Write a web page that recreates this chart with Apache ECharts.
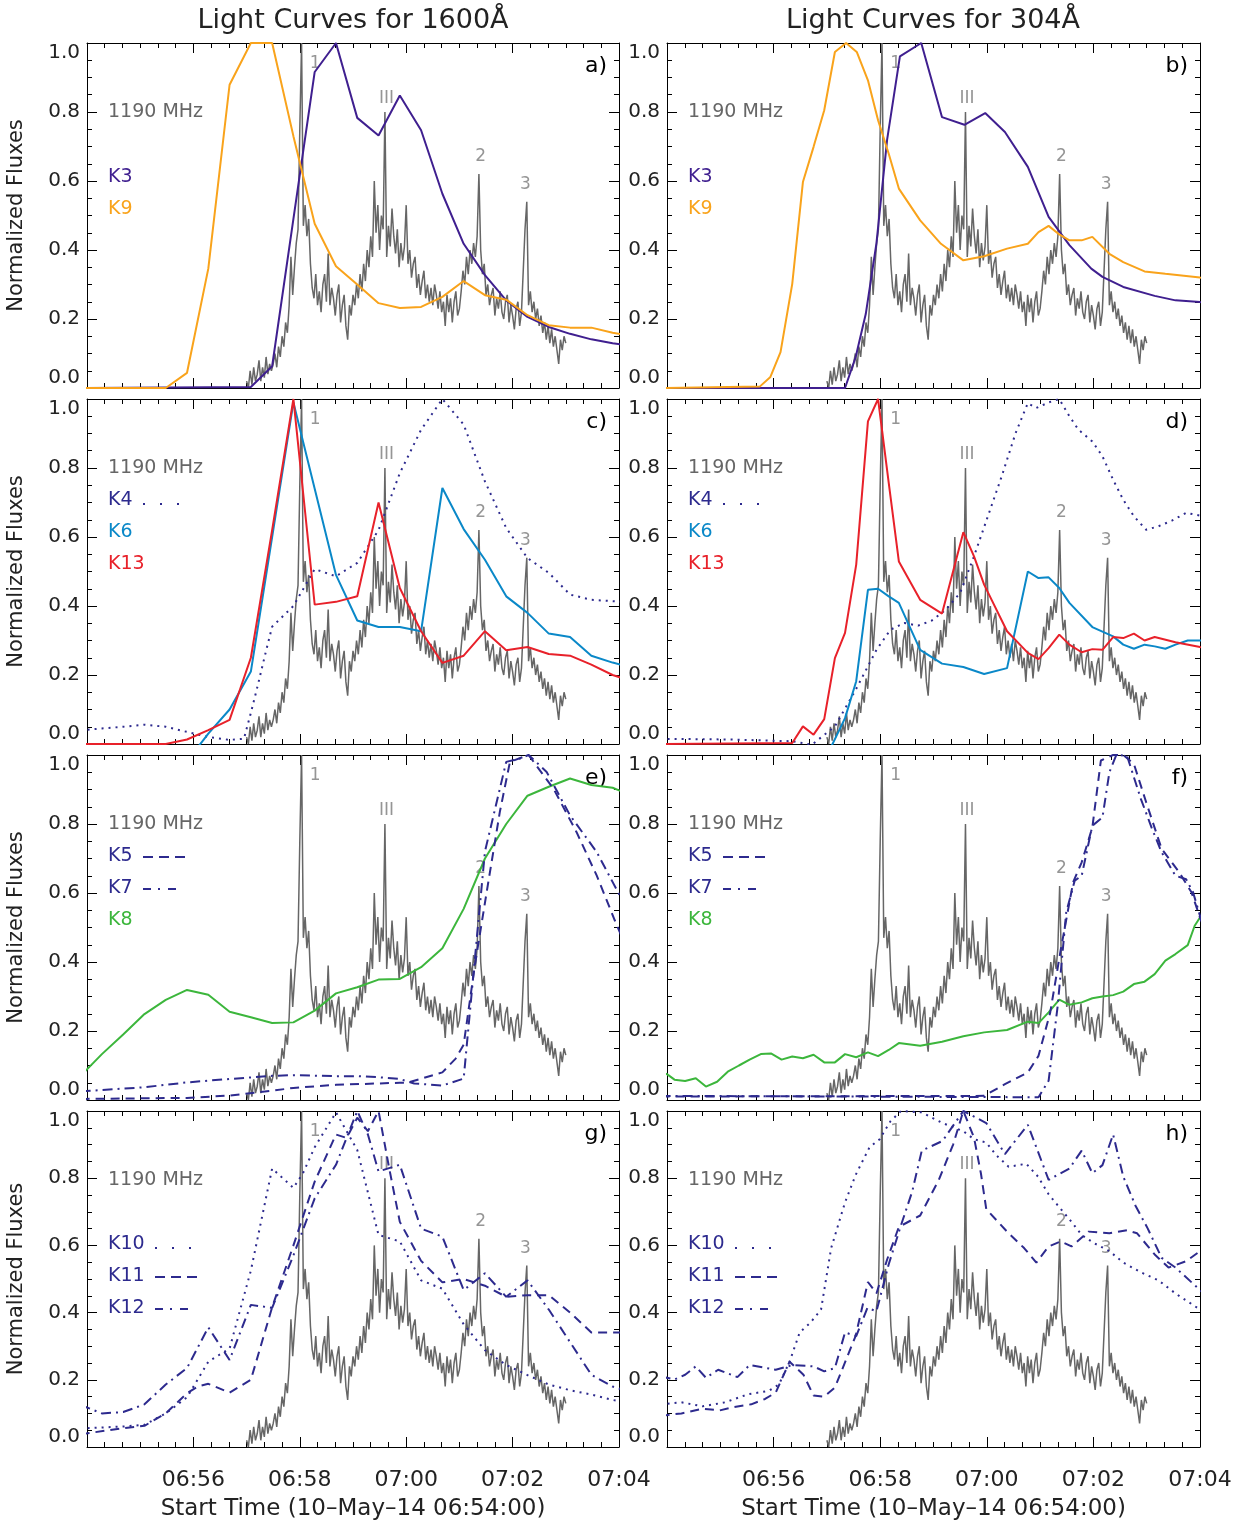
<!DOCTYPE html>
<html>
<head>
<meta charset="utf-8">
<title>Light Curves</title>
<script src="https://cdn.jsdelivr.net/npm/echarts@6/dist/echarts.min.js"></script>
<style>
  html, body { margin: 0; padding: 0; background: #fff; }
  #chart { width: 1246px; height: 1522px; }
</style>
</head>
<body>
<div id="chart"></div>
<script>
// time axis: minutes after 06:54:00
const radioStart = 3.0;      // 06:57:00
const radioStep = 2 / 60;    // 2 s cadence
// 1190 MHz radio flux (normalized)
const radioFlux = [
  0.02,0.00,0.05,0.01,0.06,0.02,0.04,0.08,0.02,0.06,0.03,0.09,0.04,0.07,0.05,
  0.07,0.10,0.06,0.12,0.09,0.15,0.12,0.19,0.16,0.24,0.38,0.27,0.35,0.42,0.46,0.75,
  1.00,0.47,0.53,0.44,0.49,0.36,0.29,0.26,0.33,0.24,
  0.28,0.22,0.30,0.33,0.25,0.39,0.24,0.29,0.26,0.21,0.27,0.30,0.19,0.24,0.27,0.18,0.14,0.24,0.21,0.27,
  0.24,0.30,0.26,0.33,0.28,0.36,0.31,0.40,0.35,0.44,0.38,0.60,
  0.45,0.53,0.40,0.50,0.46,0.80,0.38,0.47,0.41,0.52,0.44,0.39,0.46,0.35,0.42,0.37,0.41,0.53,0.36,
  0.40,0.32,0.36,0.38,0.29,0.33,0.27,0.31,0.34,0.26,0.30,0.25,0.29,0.24,0.30,0.27,0.23,0.28,0.22,0.25,
  0.18,0.27,0.22,0.26,0.19,0.25,0.28,0.21,0.23,
  0.28,0.34,0.30,0.38,0.33,0.40,0.36,0.42,0.38,0.44,0.62,0.40,0.33,0.36,0.27,
  0.30,0.24,0.27,0.29,0.21,0.26,0.23,0.28,0.22,0.20,0.25,0.27,0.19,0.24,0.21,0.17,0.23,0.25,0.18,0.22,
  0.22,0.46,0.54,0.24,0.28,
  0.22,0.25,0.20,0.23,0.18,0.21,0.16,0.19,0.14,0.18,0.13,0.17,0.12,0.15,0.15,0.07,0.14,0.11,0.15,0.13
];
// radio peak annotations [t, flux]
const peakNames = ['1', 'III', '2', '3'];
const peakPos = [[4.29, 0.94], [5.63, 0.84], [7.40, 0.67], [8.24, 0.59]];

// 1600 A kernels [t, flux]
const k3_1600 = [[-0.12,0],[3.08,0.003],[3.48,0.063],[3.88,0.49],[4.28,0.916],[4.68,1.0],[5.08,0.783],[5.48,0.732],[5.88,0.848],[6.28,0.747],[6.68,0.563],[7.08,0.418],[7.48,0.327],[7.88,0.254],[8.28,0.206],[8.68,0.177],[9.08,0.157],[9.48,0.141],[9.88,0.13],[10.28,0.12]];
const k9_1600 = [[-0.12,0],[1.48,0],[1.88,0.044],[2.28,0.346],[2.68,0.879],[3.08,1.0],[3.48,1.0],[3.88,0.73],[4.28,0.476],[4.68,0.353],[5.08,0.30],[5.48,0.246],[5.88,0.232],[6.28,0.235],[6.68,0.264],[7.08,0.31],[7.48,0.269],[7.88,0.256],[8.28,0.211],[8.68,0.182],[9.08,0.175],[9.48,0.175],[9.88,0.16],[10.28,0.15]];
const k4_1600 = [[-0.12,0.04],[0.28,0.045],[0.68,0.05],[1.08,0.056],[1.48,0.05],[1.88,0.035],[2.28,0.02],[2.68,0.012],[2.95,0.015],[3.08,0.09],[3.21,0.17],[3.35,0.26],[3.48,0.34],[3.88,0.40],[4.28,0.507],[4.68,0.486],[5.08,0.525],[5.48,0.62],[5.88,0.785],[6.28,0.911],[6.68,1.0],[7.08,0.926],[7.48,0.761],[7.88,0.626],[8.28,0.539],[8.68,0.496],[9.08,0.433],[9.48,0.418],[9.88,0.414],[10.28,0.41]];
const k6_1600 = [[1.88,-0.05],[2.28,0.03],[2.68,0.10],[3.08,0.21],[3.48,0.60],[3.88,0.99],[4.28,0.74],[4.68,0.49],[5.08,0.358],[5.48,0.339],[5.88,0.339],[6.28,0.327],[6.68,0.742],[7.08,0.623],[7.48,0.534],[7.88,0.428],[8.28,0.38],[8.68,0.32],[9.08,0.31],[9.48,0.256],[9.88,0.236],[10.28,0.22]];
const k13_1600 = [[-0.12,0],[1.48,0],[1.88,0.013],[2.28,0.04],[2.68,0.07],[3.08,0.25],[3.48,0.62],[3.88,1.0],[4.28,0.404],[4.68,0.412],[5.08,0.428],[5.48,0.70],[5.88,0.452],[6.28,0.327],[6.68,0.235],[7.08,0.256],[7.48,0.327],[7.88,0.272],[8.28,0.281],[8.68,0.261],[9.08,0.256],[9.48,0.23],[9.88,0.20],[10.28,0.18]];
const k5_1600 = [[-0.12,0.003],[1.08,0.005],[1.88,0.006],[2.68,0.013],[3.48,0.027],[3.88,0.035],[4.68,0.044],[5.48,0.048],[5.88,0.05],[6.02,0.05],[6.68,0.08],[6.93,0.12],[7.08,0.16],[7.29,0.39],[7.51,0.60],[7.76,0.835],[7.95,0.98],[8.30,1.0],[8.77,0.902],[9.20,0.777],[9.58,0.651],[9.92,0.521],[10.28,0.39]];
const k7_1600 = [[-0.12,0.025],[1.08,0.037],[1.88,0.051],[2.68,0.061],[3.48,0.07],[3.88,0.072],[4.68,0.069],[5.08,0.069],[5.48,0.066],[5.88,0.061],[6.15,0.048],[6.68,0.042],[7.08,0.062],[7.48,0.72],[7.88,0.98],[8.14,0.99],[8.30,1.0],[8.64,0.951],[9.08,0.825],[9.58,0.719],[10.0,0.597],[10.28,0.53]];
const k8_1600 = [[-0.12,0.07],[0.28,0.133],[0.68,0.19],[1.08,0.249],[1.48,0.29],[1.88,0.319],[2.28,0.305],[2.68,0.256],[3.08,0.24],[3.48,0.223],[3.88,0.225],[4.28,0.259],[4.68,0.309],[5.08,0.327],[5.48,0.349],[5.88,0.351],[6.28,0.385],[6.68,0.44],[7.08,0.554],[7.48,0.70],[7.88,0.80],[8.28,0.882],[8.68,0.908],[9.08,0.932],[9.48,0.913],[9.88,0.905],[10.28,0.88]];
const k10_1600 = [[-0.12,0.055],[0.28,0.058],[0.68,0.061],[1.08,0.066],[1.48,0.10],[1.88,0.148],[2.28,0.254],[2.68,0.293],[3.08,0.525],[3.48,0.829],[3.88,0.771],[4.06,0.815],[4.28,0.892],[4.68,0.996],[5.08,0.884],[5.48,0.631],[5.88,0.612],[6.28,0.496],[6.68,0.471],[7.08,0.365],[7.48,0.288],[7.88,0.244],[8.28,0.214],[8.68,0.186],[9.08,0.169],[9.48,0.156],[9.88,0.14],[10.28,0.13]];
const k11_1600 = [[-0.12,0.038],[0.68,0.056],[1.08,0.063],[1.48,0.10],[1.88,0.16],[2.08,0.18],[2.28,0.188],[2.68,0.162],[3.08,0.20],[3.48,0.416],[3.88,0.60],[4.28,0.79],[4.68,0.93],[4.88,0.92],[5.08,0.98],[5.28,0.94],[5.48,1.0],[5.68,0.83],[5.88,0.67],[6.28,0.554],[6.68,0.49],[7.08,0.50],[7.48,0.48],[7.88,0.447],[8.28,0.452],[8.68,0.452],[9.08,0.40],[9.48,0.341],[9.88,0.341],[10.28,0.34]];
const k12_1600 = [[-0.12,0.125],[0.28,0.10],[0.68,0.104],[1.08,0.127],[1.48,0.186],[1.88,0.235],[2.28,0.356],[2.68,0.259],[3.08,0.423],[3.48,0.414],[3.88,0.57],[4.28,0.74],[4.68,0.84],[4.88,0.92],[5.08,1.0],[5.28,0.93],[5.48,0.82],[5.88,0.84],[6.28,0.65],[6.68,0.626],[7.08,0.467],[7.48,0.517],[7.88,0.447],[8.28,0.496],[8.68,0.409],[9.08,0.312],[9.48,0.215],[9.88,0.18],[10.28,0.16]];

// 304 A kernels [t, flux]
const k3_304 = [[-0.12,0],[3.34,0],[3.54,0.09],[3.73,0.215],[3.93,0.42],[4.13,0.72],[4.37,0.961],[4.77,1.0],[5.16,0.785],[5.58,0.763],[5.97,0.797],[6.34,0.742],[6.77,0.641],[7.16,0.496],[7.55,0.414],[7.96,0.346],[8.17,0.322],[8.56,0.293],[9.15,0.267],[9.54,0.254],[10.0,0.249],[10.2,0.248]];
const k9_304 = [[-0.12,0],[1.74,0.004],[1.94,0.032],[2.13,0.104],[2.35,0.302],[2.55,0.597],[2.75,0.699],[2.95,0.805],[3.15,0.974],[3.36,1.0],[3.56,0.974],[3.77,0.892],[3.96,0.776],[4.16,0.679],[4.35,0.578],[4.75,0.486],[5.14,0.418],[5.56,0.37],[5.95,0.382],[6.38,0.404],[6.77,0.418],[6.97,0.452],[7.16,0.47],[7.36,0.445],[7.55,0.428],[7.78,0.428],[7.98,0.438],[8.30,0.389],[8.56,0.365],[8.96,0.338],[9.35,0.331],[10.0,0.32],[10.2,0.318]];
const k4_304 = [[-0.12,0.015],[1.2,0.013],[2.35,0.008],[2.72,-0.002],[3.15,0.051],[3.54,0.157],[3.93,0.273],[4.19,0.331],[4.45,0.351],[4.71,0.343],[4.97,0.358],[5.23,0.389],[5.50,0.438],[5.76,0.544],[6.02,0.66],[6.28,0.776],[6.54,0.901],[6.77,0.988],[6.93,0.974],[7.16,0.99],[7.36,1.0],[7.55,0.95],[7.72,0.911],[7.98,0.877],[8.17,0.834],[8.37,0.766],[8.56,0.708],[8.76,0.66],[8.99,0.621],[9.22,0.631],[9.48,0.648],[9.74,0.67],[10.0,0.662],[10.2,0.655]];
const k6_304 = [[2.95,-0.05],[3.34,0.075],[3.55,0.182],[3.77,0.447],[3.96,0.45],[4.16,0.428],[4.35,0.409],[4.75,0.273],[5.16,0.233],[5.56,0.223],[5.95,0.203],[6.38,0.22],[6.77,0.50],[6.97,0.481],[7.16,0.483],[7.36,0.452],[7.55,0.409],[7.98,0.339],[8.37,0.312],[8.56,0.288],[8.76,0.276],[8.96,0.288],[9.15,0.283],[9.35,0.276],[9.54,0.288],[9.77,0.30],[10.0,0.30],[10.2,0.30]];
const k13_304 = [[-0.12,0],[2.35,0.003],[2.55,0.051],[2.75,0.027],[2.95,0.072],[3.15,0.249],[3.34,0.322],[3.55,0.52],[3.77,0.935],[3.96,1.0],[4.16,0.757],[4.35,0.529],[4.75,0.418],[5.16,0.378],[5.56,0.614],[5.76,0.544],[5.95,0.462],[6.38,0.327],[6.77,0.264],[6.97,0.246],[7.16,0.278],[7.36,0.317],[7.55,0.288],[7.78,0.266],[7.98,0.275],[8.17,0.273],[8.37,0.31],[8.56,0.307],[8.76,0.32],[8.96,0.30],[9.15,0.31],[9.54,0.295],[10.0,0.281],[10.2,0.275]];
const k5_304 = [[-0.12,0.01],[5.95,0.012],[6.34,0.046],[6.77,0.08],[6.97,0.128],[7.19,0.254],[7.39,0.438],[7.62,0.631],[7.78,0.689],[7.98,0.79],[8.14,0.984],[8.37,1.0],[8.56,1.0],[8.76,0.974],[8.99,0.863],[9.28,0.728],[9.61,0.66],[9.84,0.602],[10.0,0.529],[10.2,0.45]];
const k7_304 = [[-0.12,0.012],[6.97,0.008],[7.16,0.056],[7.33,0.273],[7.49,0.544],[7.65,0.636],[7.78,0.65],[7.98,0.795],[8.17,0.819],[8.30,0.95],[8.43,1.0],[8.63,0.998],[8.89,0.873],[9.09,0.79],[9.28,0.718],[9.54,0.65],[9.74,0.64],[9.87,0.602],[10.0,0.534],[10.2,0.45]];
const k8_304 = [[-0.12,0.08],[0.0,0.075],[0.14,0.059],[0.34,0.055],[0.54,0.063],[0.73,0.039],[0.94,0.053],[1.14,0.082],[1.35,0.10],[1.55,0.117],[1.76,0.133],[1.95,0.135],[2.15,0.117],[2.35,0.126],[2.55,0.121],[2.75,0.131],[2.95,0.109],[3.15,0.109],[3.34,0.133],[3.55,0.124],[3.77,0.138],[3.96,0.127],[4.16,0.145],[4.35,0.165],[4.75,0.157],[5.16,0.169],[5.56,0.185],[5.95,0.196],[6.38,0.203],[6.77,0.227],[6.97,0.223],[7.16,0.254],[7.36,0.291],[7.55,0.276],[7.78,0.283],[7.98,0.295],[8.17,0.30],[8.37,0.304],[8.56,0.314],[8.76,0.336],[8.96,0.343],[9.15,0.365],[9.35,0.404],[9.54,0.423],[9.77,0.449],[9.90,0.505],[10.0,0.529],[10.2,0.56]];
const k10_304 = [[-0.12,0.127],[0.27,0.133],[0.67,0.121],[1.09,0.133],[1.52,0.157],[1.91,0.167],[2.10,0.186],[2.30,0.254],[2.49,0.341],[2.69,0.37],[2.89,0.409],[3.08,0.592],[3.34,0.728],[3.54,0.81],[3.80,0.892],[3.99,0.916],[4.19,0.969],[4.39,1.0],[4.78,0.996],[5.17,0.964],[5.56,0.94],[5.76,0.916],[5.99,0.906],[6.18,0.868],[6.41,0.834],[6.74,0.843],[6.96,0.805],[7.16,0.752],[7.39,0.708],[7.59,0.67],[7.78,0.631],[8.01,0.607],[8.30,0.583],[8.56,0.549],[8.89,0.52],[9.22,0.496],[9.54,0.457],[10.0,0.409],[10.2,0.39]];
const k11_304 = [[-0.12,0.093],[0.27,0.10],[0.67,0.114],[0.99,0.109],[1.25,0.119],[1.58,0.127],[1.84,0.143],[2.04,0.162],[2.30,0.254],[2.56,0.215],[2.75,0.153],[2.95,0.15],[3.15,0.177],[3.54,0.331],[3.77,0.491],[3.93,0.457],[4.13,0.558],[4.35,0.655],[4.75,0.689],[5.10,0.795],[5.37,0.901],[5.56,1.0],[5.76,0.921],[5.89,0.814],[5.99,0.708],[6.38,0.641],[6.70,0.592],[6.93,0.549],[7.16,0.597],[7.39,0.612],[7.59,0.597],[7.91,0.641],[8.30,0.636],[8.63,0.645],[8.82,0.636],[9.15,0.573],[9.41,0.534],[9.74,0.553],[10.0,0.583],[10.2,0.60]];
const k12_304 = [[-0.12,0.21],[0.14,0.201],[0.34,0.215],[0.54,0.24],[0.73,0.206],[0.96,0.23],[1.32,0.208],[1.55,0.244],[2.04,0.23],[2.36,0.244],[2.75,0.24],[2.95,0.225],[3.15,0.235],[3.34,0.341],[3.55,0.33],[3.76,0.414],[3.93,0.404],[4.16,0.544],[4.39,0.66],[4.60,0.76],[4.78,0.882],[5.17,0.911],[5.56,1.0],[5.99,0.964],[6.34,0.872],[6.77,0.959],[7.16,0.795],[7.55,0.829],[7.78,0.882],[7.98,0.815],[8.17,0.839],[8.37,0.93],[8.56,0.805],[8.79,0.718],[9.02,0.65],[9.28,0.563],[9.54,0.534],[10.0,0.467],[10.2,0.44]];

const GRAY = '#666666', PURPLE = '#3f1f8f', ORANGE = '#f9a31b', BLUE = '#0a88c8',
      RED = '#e8212a', GREEN = '#3cb63c', NAVY = '#2d2a8e';
const DASH = { solid: 'solid', dot: [2, 5], dash: [9, 6], dashdot: [10, 5, 2, 5] };
const LEG_DASH = { dot: [2, 15], dash: [10, 6], dashdot: [8, 7, 2, 8] };
const FONT = 'DejaVu Sans';

// panel layout: letter, column, row, curves, legend rows [dy, text, color, style]
const panels = [
  { letter: 'a)', col: 0, row: 0, curves: [[k3_1600, PURPLE, 'solid'], [k9_1600, ORANGE, 'solid']],
    legend: [[134, 'K3', PURPLE, null], [166, 'K9', ORANGE, null]] },
  { letter: 'b)', col: 1, row: 0, curves: [[k3_304, PURPLE, 'solid'], [k9_304, ORANGE, 'solid']],
    legend: [[134, 'K3', PURPLE, null], [166, 'K9', ORANGE, null]] },
  { letter: 'c)', col: 0, row: 1, curves: [[k4_1600, NAVY, 'dot'], [k6_1600, BLUE, 'solid'], [k13_1600, RED, 'solid']],
    legend: [[101, 'K4', NAVY, 'dot'], [133, 'K6', BLUE, null], [165, 'K13', RED, null]] },
  { letter: 'd)', col: 1, row: 1, curves: [[k4_304, NAVY, 'dot'], [k6_304, BLUE, 'solid'], [k13_304, RED, 'solid']],
    legend: [[101, 'K4', NAVY, 'dot'], [133, 'K6', BLUE, null], [165, 'K13', RED, null]] },
  { letter: 'e)', col: 0, row: 2, curves: [[k8_1600, GREEN, 'solid'], [k5_1600, NAVY, 'dash'], [k7_1600, NAVY, 'dashdot']],
    legend: [[101, 'K5', NAVY, 'dash'], [133, 'K7', NAVY, 'dashdot'], [165, 'K8', GREEN, null]] },
  { letter: 'f)', col: 1, row: 2, curves: [[k8_304, GREEN, 'solid'], [k5_304, NAVY, 'dash'], [k7_304, NAVY, 'dashdot']],
    legend: [[101, 'K5', NAVY, 'dash'], [133, 'K7', NAVY, 'dashdot'], [165, 'K8', GREEN, null]] },
  { letter: 'g)', col: 0, row: 3, curves: [[k10_1600, NAVY, 'dot'], [k11_1600, NAVY, 'dash'], [k12_1600, NAVY, 'dashdot']],
    legend: [[133, 'K10', NAVY, 'dot'], [165, 'K11', NAVY, 'dash'], [197, 'K12', NAVY, 'dashdot']] },
  { letter: 'h)', col: 1, row: 3, curves: [[k10_304, NAVY, 'dot'], [k11_304, NAVY, 'dash'], [k12_304, NAVY, 'dashdot']],
    legend: [[133, 'K10', NAVY, 'dot'], [165, 'K11', NAVY, 'dash'], [197, 'K12', NAVY, 'dashdot']] }
];

const radioData = radioFlux.map((v, i) => [radioStart + i * radioStep, v]);
const peakData = peakPos.map((p, i) => ({ value: p, name: peakNames[i] }));

function pad(n) { return (n < 10 ? '0' : '') + n; }
function timeLabel(v) {
  if (v === 0) return '';
  const m = 54 + v;
  return pad(6 + Math.floor(m / 60)) + ':' + pad(m % 60);
}

const grids = [], xAxes = [], yAxes = [], series = [], graphics = [];
const tickStyle = { color: '#000', width: 1 };

panels.forEach((p, k) => {
  const left = p.col ? 667 : 87;
  const top = 43 + p.row * 356;
  const width = p.col ? 533 : 532;
  grids.push({ left: left, top: top, width: width, height: 345 });

  const bottomRow = p.row === 3;
  ['bottom', 'top'].forEach(pos => {
    const main = pos === 'bottom';
    xAxes.push({
      gridIndex: k, type: 'value', position: pos, min: 0, max: 10, interval: 2,
      axisLine: { show: true, onZero: false, lineStyle: tickStyle },
      axisTick: { show: true, inside: true, length: 10, lineStyle: tickStyle },
      minorTick: { show: true, splitNumber: 6, length: 5, lineStyle: tickStyle },
      splitLine: { show: false },
      axisLabel: { show: main && bottomRow, formatter: timeLabel, fontSize: 22, color: '#222', margin: 22, fontFamily: FONT },
      name: main && bottomRow ? 'Start Time (10\u2013May\u201314 06:54:00)' : '',
      nameLocation: 'middle', nameGap: 51,
      nameTextStyle: { fontSize: 23, color: '#222', fontFamily: FONT }
    });
  });
  ['left', 'right'].forEach(pos => {
    const main = pos === 'left';
    yAxes.push({
      gridIndex: k, type: 'value', position: pos, min: 0, max: 1, interval: 0.2,
      axisLine: { show: true, onZero: false, lineStyle: tickStyle },
      axisTick: { show: true, inside: true, length: 10, lineStyle: tickStyle },
      minorTick: { show: true, splitNumber: 4, length: 5, lineStyle: tickStyle },
      splitLine: { show: false },
      axisLabel: {
        show: main, formatter: v => v.toFixed(1), fontSize: 20, color: '#222', margin: 7, fontFamily: FONT,
        verticalAlignMinLabel: 'bottom', verticalAlignMaxLabel: 'top'
      },
      name: main && p.col === 0 ? 'Normalized Fluxes' : '', nameLocation: 'middle', nameGap: 60,
      nameTextStyle: { fontSize: 21, color: '#222', fontFamily: FONT }
    });
  });

  const ax = { xAxisIndex: k * 2, yAxisIndex: k * 2 };
  series.push(Object.assign({
    type: 'scatter', data: peakData, symbolSize: 0, z: 1, silent: true,
    label: { show: true, position: 'inside', formatter: '{b}', color: '#7a7a7a', fontSize: 17, fontFamily: FONT }
  }, ax));
  series.push(Object.assign({
    type: 'line', data: radioData, symbol: 'none', z: 2,
    lineStyle: { color: GRAY, width: 1.5 }
  }, ax));
  p.curves.forEach(c => {
    series.push(Object.assign({
      type: 'line', data: c[0], symbol: 'none', z: 3,
      lineStyle: { color: c[1], width: 2, type: DASH[c[2]], cap: 'butt' }
    }, ax));
  });

  // legend block and panel letter
  const lx = left + 21;
  graphics.push({ type: 'text', x: lx, y: top + 69,
    style: { text: '1190 MHz', fill: GRAY, font: '19px "' + FONT + '"', verticalAlign: 'middle', textVerticalAlign: 'middle' } });
  p.legend.forEach(r => {
    graphics.push({ type: 'text', x: lx, y: top + r[0],
      style: { text: r[1], fill: r[2], font: '19px "' + FONT + '"', verticalAlign: 'middle', textVerticalAlign: 'middle' } });
    if (r[3]) {
      const sx = left + (r[1].length > 2 ? 68 : 56);
      const len = r[3] === 'dash' ? (r[1].length > 2 ? 43 : 42) : (r[3] === 'dot' ? 36 : 34);
      const dy = r[3] === 'dot' ? 4 : 1;
      graphics.push({ type: 'line', shape: { x1: sx, y1: top + r[0] + dy, x2: sx + len, y2: top + r[0] + dy },
        style: { stroke: r[2], lineWidth: 2, lineDash: LEG_DASH[r[3]] } });
    }
  });
  graphics.push({ type: 'text', x: left + width - 12, y: top + 23,
    style: { text: p.letter, fill: '#000', font: '22px "' + FONT + '"', textAlign: 'right', verticalAlign: 'middle', textVerticalAlign: 'middle' } });
});

graphics.push({ type: 'text', x: 353, y: 21,
  style: { text: 'Light Curves for 1600\u00c5', fill: '#222', font: '27px "' + FONT + '"', textAlign: 'center', verticalAlign: 'middle', textVerticalAlign: 'middle' } });
graphics.push({ type: 'text', x: 933, y: 21,
  style: { text: 'Light Curves for 304\u00c5', fill: '#222', font: '27px "' + FONT + '"', textAlign: 'center', verticalAlign: 'middle', textVerticalAlign: 'middle' } });

const chart = echarts.init(document.getElementById('chart'), null, { renderer: 'canvas' });
chart.setOption({
  backgroundColor: '#fff',
  animation: false,
  textStyle: { fontFamily: FONT },
  grid: grids,
  xAxis: xAxes,
  yAxis: yAxes,
  series: series,
  graphic: graphics
});
</script>
</body>
</html>
